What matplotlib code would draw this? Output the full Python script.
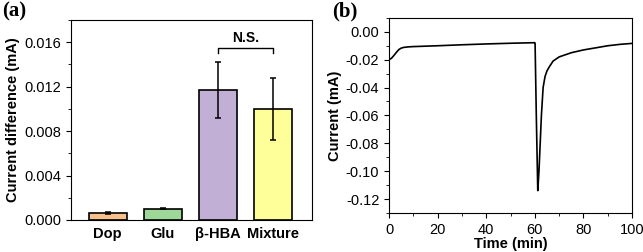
import matplotlib.pyplot as plt
from matplotlib.ticker import MultipleLocator

plt.rcParams['font.family'] = ['Liberation Sans', 'DejaVu Sans']

# panel (a)
labels = ['Dop', 'Glu', 'β-HBA', 'Mixture']
values = [0.00062, 0.00100, 0.0117, 0.0100]
errors = [0.00006, 0.00005, 0.0025, 0.0028]
colors = ['#F8C08C', '#9DD898', '#C1AFD6', '#FFFF9A']

# panel (b)
time = [0, 1, 2, 3, 4, 5, 6, 8, 10, 20, 30, 40, 50, 60, 60.1,
        60.6, 61.2, 61.7, 62.2, 62.7, 63.4, 64.2, 65, 66, 67.5, 70,
        75, 80, 85, 90, 95, 100]
current = [-0.0200, -0.0190, -0.0170, -0.0148, -0.0128, -0.0117, -0.0112,
           -0.0108, -0.0106, -0.0100, -0.0093, -0.0087, -0.0082, -0.0078,
           -0.0085, -0.060, -0.114, -0.100, -0.080, -0.060, -0.040, -0.032,
           -0.028, -0.025, -0.021, -0.018, -0.015, -0.013, -0.0115, -0.0100,
           -0.0090, -0.0083]

fs = 10.5

fig = plt.figure(figsize=(6.43, 2.52), dpi=100)
ax1 = fig.add_axes([0.110, 0.127, 0.375, 0.794])
ax2 = fig.add_axes([0.605, 0.155, 0.378, 0.774])

x = [1, 2, 3, 4]
ax1.bar(x, values, width=0.69, color=colors, edgecolor='black', linewidth=1.2,
        yerr=errors, capsize=2.5, error_kw=dict(elinewidth=1.1, capthick=1.1))
ax1.set_xlim(0.33, 4.71)
ax1.set_ylim(0, 0.018)
ax1.set_xticks(x)
ax1.set_xticklabels(labels, fontweight='bold', fontsize=fs)
ax1.tick_params(axis='x', length=0, pad=5)
ax1.yaxis.set_major_locator(MultipleLocator(0.004))
ax1.yaxis.set_minor_locator(MultipleLocator(0.002))
ax1.yaxis.set_major_formatter(lambda v, p: f'{v:.3f}')
ax1.tick_params(axis='y', labelsize=fs, length=3.5, width=0.8)
ax1.tick_params(axis='y', which='minor', length=2, width=0.6)
ax1.set_ylabel('Current difference (mA)', fontweight='bold', fontsize=fs, labelpad=3)

# N.S. bracket
ax1.plot([3, 3, 4, 4], [0.0150, 0.0155, 0.0155, 0.0150], color='black', lw=1)
ax1.text(3.5, 0.0157, 'N.S.', ha='center', va='bottom', fontweight='bold', fontsize=10)

ax2.plot(time, current, color='black', lw=1.2)
ax2.set_xlim(0, 100)
ax2.set_ylim(-0.13, 0.01)
ax2.xaxis.set_major_locator(MultipleLocator(20))
ax2.xaxis.set_minor_locator(MultipleLocator(10))
ax2.yaxis.set_major_locator(MultipleLocator(0.02))
ax2.yaxis.set_minor_locator(MultipleLocator(0.01))
ax2.yaxis.set_major_formatter(lambda v, p: f'{v:.2f}')
ax2.tick_params(labelsize=fs, length=3.5, width=0.8)
ax2.tick_params(which='minor', length=2, width=0.6)
ax2.set_xlabel('Time (min)', fontweight='bold', fontsize=fs, labelpad=0)
ax2.set_ylabel('Current (mA)', fontweight='bold', fontsize=fs, labelpad=3)

for ax in (ax1, ax2):
    for s in ax.spines.values():
        s.set_linewidth(0.8)

fig.text(0.003, 0.995, '(a)', fontsize=15, fontweight='bold',
         family='Liberation Serif', va='top')
fig.text(0.517, 0.995, '(b)', fontsize=15, fontweight='bold',
         family='Liberation Serif', va='top')

fig.savefig('out.png', dpi=100)
